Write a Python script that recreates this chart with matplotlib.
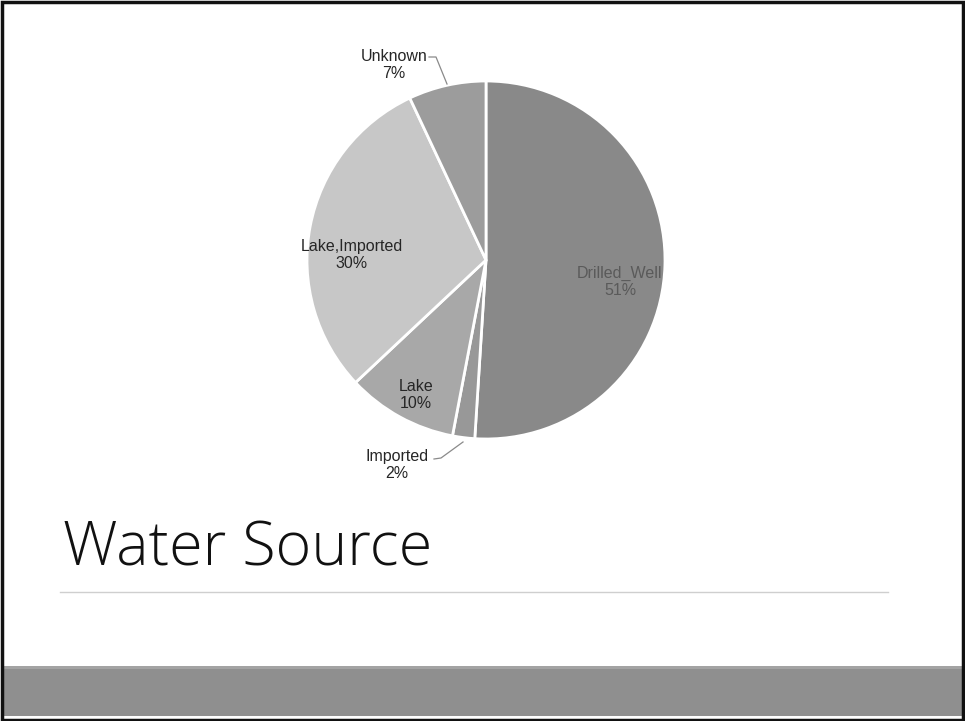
import matplotlib
matplotlib.use("Agg")
import matplotlib.pyplot as plt
from matplotlib.patches import Rectangle
from matplotlib.lines import Line2D

# Share of water sources
categories = ["Drilled_Well", "Imported", "Lake", "Lake,Imported", "Unknown"]
shares = [51, 2, 10, 30, 7]
colors = ["#898989", "#989898", "#a8a8a8", "#c7c7c7", "#9c9c9c"]
title = "Water Source"

W, H = 965, 721
fig = plt.figure(figsize=(W / 100, H / 100), dpi=100)
fig.patch.set_facecolor("white")

def fx(px):
    return px / W

def fy(py):
    return 1 - py / H

# Pie axes, square in pixels
cx, cy, r = 486, 260, 179
ax = fig.add_axes([fx(cx - r), fy(cy + r), 2 * r / W, 2 * r / H])
wedges, _ = ax.pie(shares, colors=colors, startangle=90, counterclock=False,
                   radius=1, wedgeprops=dict(edgecolor="white", linewidth=2))
ax.set_xlim(-1, 1)
ax.set_ylim(-1, 1)
ax.set_aspect("auto")
ax.axis("off")

lab_font = dict(family=["Liberation Sans", "DejaVu Sans"], fontsize=11.5,
                ha="center", va="center", linespacing=1.1)

def pct(v):
    return f"{v}%"

def to_data(px, py):
    return (px - cx) / r, (cy - py) / r

# Labels inside the slices
inside = {0: (620, 282, "#5a5a5a"), 3: (352, 255, "#262626"), 2: (416, 395, "#262626")}
for i, (px, py, col) in inside.items():
    x, y = to_data(px, py)
    ax.text(x, y, f"{categories[i]}\n{pct(shares[i])}", color=col, **lab_font)

# Labels outside the pie, with leader lines
outside = {4: ((394, 65), [(429, 57), (436, 57), (447, 84)]),
           1: ((397, 465), [(434, 459), (441, 458), (463, 442)])}
for i, ((px, py), pts) in outside.items():
    x, y = to_data(px, py)
    ax.text(x, y, f"{categories[i]}\n{pct(shares[i])}", color="#262626",
            clip_on=False, **lab_font)
    xs, ys = zip(*[to_data(a, b) for a, b in pts])
    ax.add_line(Line2D(xs, ys, color="#8a8a8a", lw=0.9, clip_on=False))

# Title and rule beneath it
fig.text(fx(63), fy(566), title, fontsize=44, family=["Open Sans", "DejaVu Sans"],
         fontweight="light", color="#111111", ha="left", va="baseline")
fig.add_artist(Line2D([fx(60), fx(888)], [fy(592), fy(592)], color="#cfcfcf",
                      lw=1.0, transform=fig.transFigure))

# Footer band
fig.add_artist(Rectangle((fx(3), fy(716)), fx(959), (716 - 666) / H,
                         transform=fig.transFigure, facecolor="#8f8f8f",
                         edgecolor="none"))
fig.add_artist(Rectangle((fx(3), fy(669)), fx(959), 3 / H,
                         transform=fig.transFigure, facecolor="#a3a3a3",
                         edgecolor="none"))

# Outer frame
fig.add_artist(Rectangle((fx(1.5), fy(719.5)), fx(961), 718 / H,
                         transform=fig.transFigure, facecolor="none",
                         edgecolor="#111111", lw=2.5))

fig.savefig("out.png", dpi=100, facecolor="white")
